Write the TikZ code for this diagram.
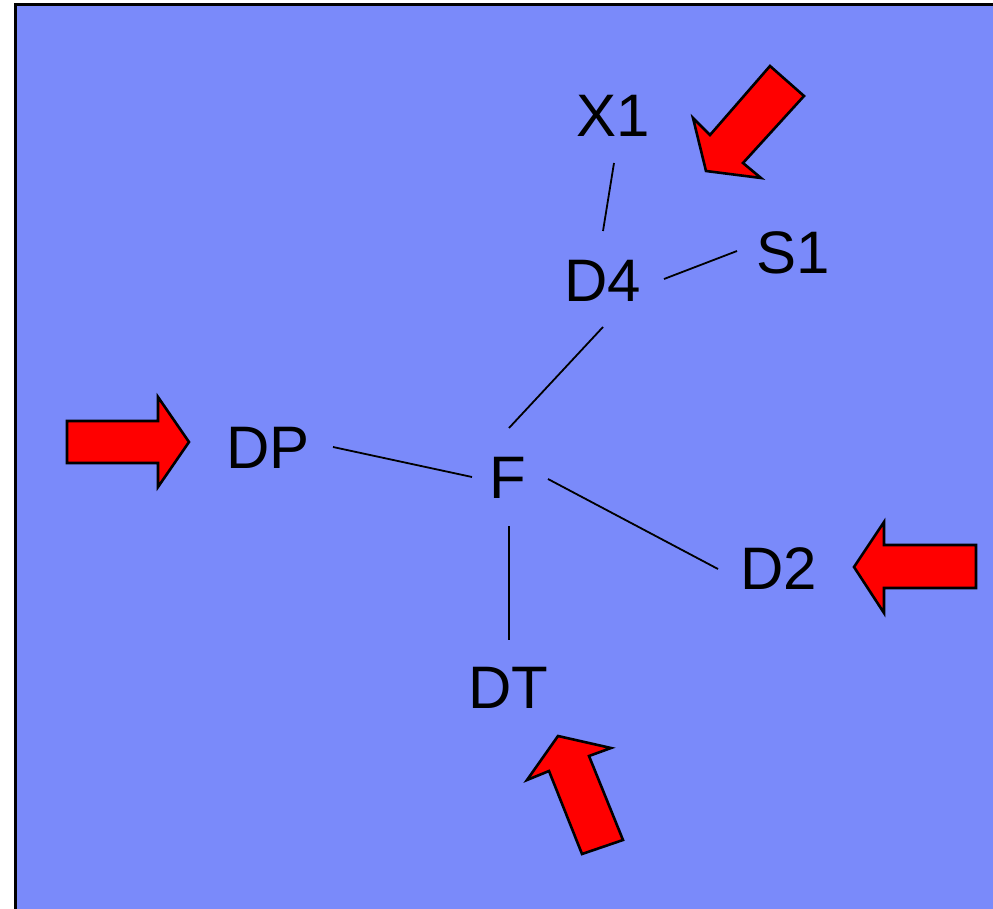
\documentclass[tikz,border=0pt]{standalone}
\usepackage{fontspec}
\setmainfont{Liberation Sans}
\definecolor{bgblue}{RGB}{122,138,250}
\definecolor{arrred}{RGB}{255,0,0}
\begin{document}
\begin{tikzpicture}[x=1pt,y=-1pt,
  lbl/.style={inner sep=0pt, font=\fontsize{60}{60}\selectfont, text=black},
  conn/.style={draw=black, line width=1.8pt},
  blockarrow/.style={fill=arrred, draw=black, line width=2.6pt, line join=miter}]
\useasboundingbox (0,0) rectangle (993,909);
\clip (0,0) rectangle (993,909);
\fill[white] (0,0) rectangle (993,909);
\draw[fill=bgblue, line width=3pt] (15,5) rectangle (1010,930);
% labels
\node[lbl] (X1) at (613,116) {X1};
\node[lbl] (S1) at (793,253) {S1};
\node[lbl] (D4) at (603,281) {D4};
\node[lbl] (DP) at (268,448) {DP};
\node[lbl] (F) at (508,478) {F};
\node[lbl] (D2) at (779,569) {D2};
\node[lbl] (DT) at (508,688) {DT};
% connector end points
\coordinate (x1b) at (614,163); \coordinate (d4t) at (603,231);
\coordinate (d4r) at (664,279); \coordinate (s1l) at (737,251);
\coordinate (d4b) at (603,327); \coordinate (ft) at (509,428);
\coordinate (dpr) at (333,447); \coordinate (fl) at (472,477);
\coordinate (fr) at (548,479); \coordinate (d2l) at (718,569);
\coordinate (fb) at (509,526); \coordinate (dtt) at (509,640);
\draw[conn] (x1b) -- (d4t);
\draw[conn] (d4r) -- (s1l);
\draw[conn] (d4b) -- (ft);
\draw[conn] (dpr) -- (fl);
\draw[conn] (fr) -- (d2l);
\draw[conn] (fb) -- (dtt);
% block arrows
\draw[blockarrow] (770,66) -- (804,96) -- (743,163) -- (761,178) -- (706,171) -- (693,118) -- (710,135) -- cycle;
\draw[blockarrow] (67,421) -- (158,421) -- (158,397) -- (189,442) -- (158,487) -- (158,463) -- (67,463) -- cycle;
\draw[blockarrow] (854,567) -- (884,522) -- (884,545) -- (976,545) -- (976,588) -- (884,588) -- (884,613) -- cycle;
\draw[blockarrow] (558,736) -- (611,748) -- (589,756) -- (623,840) -- (582,854) -- (549,771) -- (527,780) -- cycle;
\end{tikzpicture}
\end{document}
